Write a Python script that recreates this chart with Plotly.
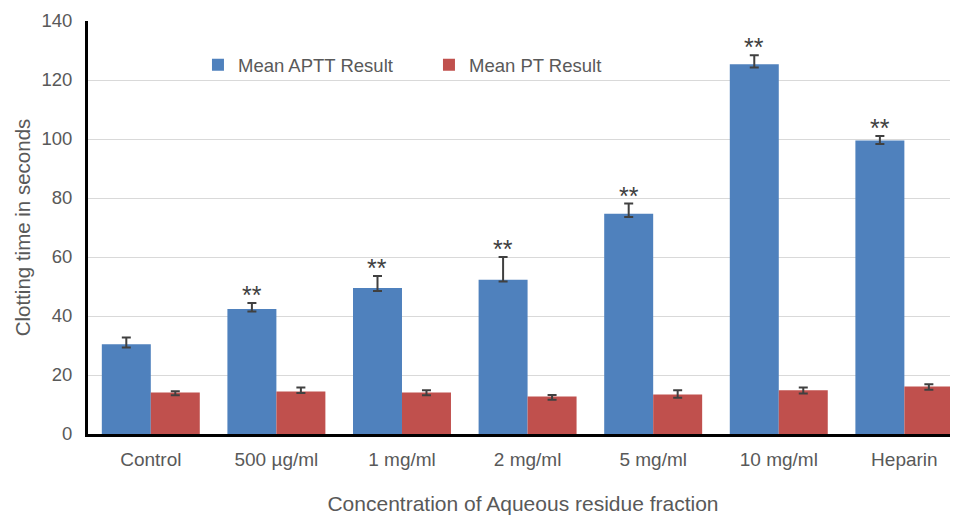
import plotly.graph_objects as go

categories = ["Control", "500 µg/ml", "1 mg/ml", "2 mg/ml", "5 mg/ml", "10 mg/ml", "Heparin"]
aptt = [30.4, 42.4, 49.5, 52.3, 74.7, 125.3, 99.5]
aptt_err_plus = [2.3, 2.0, 4.1, 7.7, 3.4, 3.1, 1.5]
aptt_err_minus = [1.1, 0.9, 1.0, 0.6, 1.1, 1.1, 1.2]
pt = [14.1, 14.4, 14.1, 12.7, 13.4, 14.8, 16.1]
pt_err_plus = [0.35, 1.4, 0.7, 0.5, 1.4, 1.0, 0.8]
pt_err_minus = [1.0, 0.5, 1.0, 1.1, 1.1, 1.1, 1.1]
significance = ["", "**", "**", "**", "**", "**", "**"]

BLUE = "#4F81BD"
RED = "#C0504D"
TEXT = "#595959"
ERR = "#404040"
FONT = "Arial, Liberation Sans, sans-serif"

fig = go.Figure()
fig.add_trace(go.Bar(
    x=categories, y=aptt, name="Mean APTT Result", marker=dict(color=BLUE, line=dict(width=0)),
    error_y=dict(type="data", symmetric=False, array=aptt_err_plus, arrayminus=aptt_err_minus,
                 color=ERR, thickness=2, width=4.5),
))
fig.add_trace(go.Bar(
    x=categories, y=pt, name="Mean PT Result", marker=dict(color=RED, line=dict(width=0)),
    error_y=dict(type="data", symmetric=False, array=pt_err_plus, arrayminus=pt_err_minus,
                 color=ERR, thickness=2, width=4.5),
))

cat_px = 870 / 6.927
bar_offset_px = -0.25 * (1 - 0.22) * cat_px
for c, v, e, s in zip(categories, aptt, aptt_err_plus, significance):
    if s:
        fig.add_annotation(x=c, y=v + e, text=s, showarrow=False, xshift=bar_offset_px,
                           yanchor="middle", yshift=8,
                           font=dict(family=FONT, size=25, color=ERR))

fig.update_layout(
    width=958, height=521,
    margin=dict(l=80, r=8, t=12.7, b=94.7, autoexpand=False),
    paper_bgcolor="white", plot_bgcolor="white",
    barmode="group", bargap=0.22, bargroupgap=0,
    font=dict(family=FONT, color=TEXT),
    legend=dict(orientation="h", x=0.1264, xanchor="left", y=0.893, yanchor="middle",
                bgcolor="rgba(0,0,0,0)", font=dict(size=18.5, color=TEXT),
                entrywidth=186, entrywidthmode="pixels", traceorder="normal"),
    showlegend=True,
)
fig.update_xaxes(
    range=[-0.5, 6.427], showline=True, linecolor="black", linewidth=3,
    ticks="", tickfont=dict(size=19, color=TEXT), ticklabelstandoff=6,
    showgrid=False, zeroline=False,
    title=dict(text="Concentration of Aqueous residue fraction", font=dict(size=21, color=TEXT), standoff=28),
)
fig.update_yaxes(
    range=[0, 140], dtick=20, showline=True, linecolor="black", linewidth=3,
    ticks="", tickfont=dict(size=18.5, color=TEXT), ticklabelstandoff=9,
    showgrid=True, gridcolor="#D9D9D9", gridwidth=1, zeroline=False,
    title=dict(text="Clotting time in seconds", font=dict(size=20.5, color=TEXT), standoff=6),
)

fig.write_html("out.html")
